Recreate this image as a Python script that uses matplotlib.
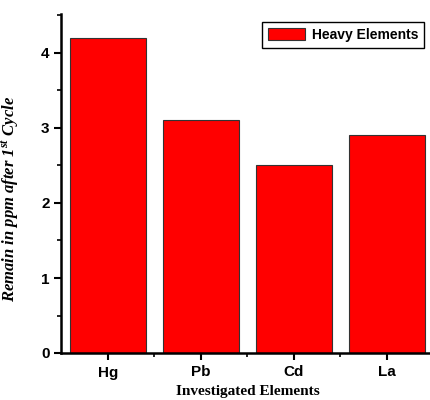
import matplotlib.pyplot as plt
from matplotlib.ticker import MultipleLocator, FixedLocator

elements = ['Hg', 'Pb', 'Cd', 'La']
remain_ppm = [4.2, 3.1, 2.5, 2.9]

plt.rcParams['mathtext.fontset'] = 'custom'
plt.rcParams['mathtext.rm'] = 'Liberation Serif:italic:bold'
plt.rcParams['mathtext.it'] = 'Liberation Serif:italic:bold'

fig = plt.figure(figsize=(4.3, 4.0), dpi=100)
ax = fig.add_axes([0.143, 0.1175, 0.865, 0.8475])

x = range(len(elements))
ax.bar(x, remain_ppm, width=0.81, color='#ff0000', edgecolor='#333333',
       linewidth=0.8, label='Heavy Elements')

ax.set_xlim(-0.5, 3.5)
ax.set_ylim(0, 4.52)

for side in ['top', 'right']:
    ax.spines[side].set_visible(False)
for side in ['left', 'bottom']:
    ax.spines[side].set_linewidth(1.8)

ax.set_xticks(list(x))
ax.set_xticklabels(elements)
ax.xaxis.set_minor_locator(FixedLocator([0.5, 1.5, 2.5]))
ax.yaxis.set_major_locator(MultipleLocator(1))
ax.yaxis.set_minor_locator(MultipleLocator(0.5))
ax.tick_params(which='major', direction='out', length=5, width=1.5)
ax.tick_params(which='minor', direction='out', length=3, width=1.2)
ax.tick_params(axis='x', pad=4)

for lab in ax.get_xticklabels() + ax.get_yticklabels():
    lab.set_fontfamily('Liberation Sans')
    lab.set_fontweight('bold')
    lab.set_fontsize(11)

ax.set_xlabel('Investigated Elements', fontfamily='Liberation Serif',
              fontweight='bold', fontsize=11, labelpad=4)
ax.set_ylabel(r'Remain in ppm after 1$^{st}$ Cycle', fontfamily='Liberation Serif',
              fontstyle='italic', fontweight='bold', fontsize=12)
ax.yaxis.set_label_coords(-0.11, 0.455)

leg = ax.legend(loc='upper right', bbox_to_anchor=(0.975, 0.975), borderaxespad=0,
                prop={'family': 'Liberation Sans', 'weight': 'bold', 'size': 10},
                fancybox=False, edgecolor='black', framealpha=1,
                handlelength=2.7, handleheight=1.0, borderpad=0.4, handletextpad=0.5)
leg.get_frame().set_linewidth(1.0)

fig.savefig('out.png', dpi=100)
